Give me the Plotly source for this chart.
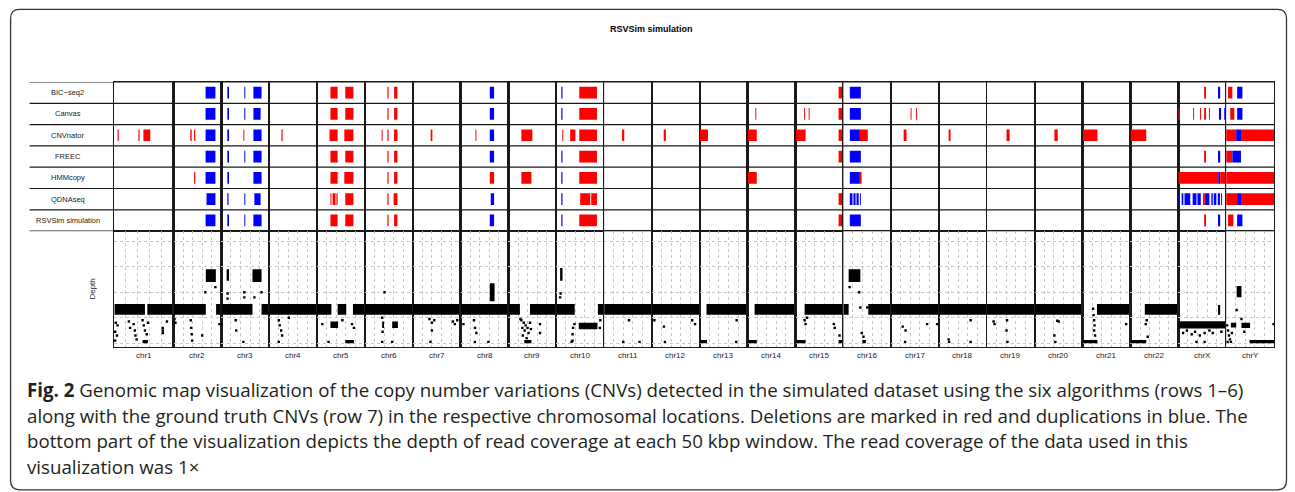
import plotly.graph_objects as go
from plotly.subplots import make_subplots

# ---------------- data ----------------
CHROMS = [f"chr{i}" for i in range(1, 23)] + ["chrX", "chrY"]
TRACKS = ["BIC−seq2", "Canvas", "CNVnator", "FREEC", "HMMcopy", "QDNAseq", "RSVSim simulation"]

# CNV calls: (chromosome, start, end, type); positions are fractions of the chromosome length
BICSEQ2 = [
    ("chr2", 0.67, 0.876, "dup"),
    ("chr3", 0.125, 0.16, "dup"), ("chr3", 0.48, 0.50, "dup"), ("chr3", 0.67, 0.84, "dup"),
    ("chr5", 0.28, 0.43, "del"), ("chr5", 0.59, 0.76, "del"),
    ("chr6", 0.47, 0.495, "del"), ("chr6", 0.61, 0.68, "del"),
    ("chr8", 0.61, 0.70, "dup"),
    ("chr10", 0.105, 0.13, "dup"), ("chr10", 0.48, 0.85, "del"),
    ("chr15", 0.90, 0.975, "del"),
    ("chr16", 0.135, 0.365, "dup"),
    ("chrX", 0.54, 0.58, "del"), ("chrX", 0.83, 0.875, "dup"),
    ("chrY", 0.04, 0.13, "del"), ("chrY", 0.23, 0.34, "dup"),
]
CANVAS = [
    ("chr2", 0.67, 0.876, "dup"),
    ("chr3", 0.125, 0.16, "dup"), ("chr3", 0.48, 0.50, "dup"), ("chr3", 0.67, 0.82, "dup"),
    ("chr5", 0.28, 0.43, "del"), ("chr5", 0.59, 0.76, "del"),
    ("chr6", 0.47, 0.495, "del"), ("chr6", 0.61, 0.68, "del"),
    ("chr8", 0.61, 0.70, "dup"),
    ("chr10", 0.105, 0.13, "dup"), ("chr10", 0.48, 0.85, "del"),
    ("chr14", 0.16, 0.18, "del"),
    ("chr15", 0.18, 0.20, "del"), ("chr15", 0.275, 0.295, "del"), ("chr15", 0.90, 0.975, "del"),
    ("chr16", 0.135, 0.365, "dup"),
    ("chr17", 0.405, 0.425, "del"), ("chr17", 0.52, 0.54, "del"),
    ("chrX", 0.0, 0.03, "del"), ("chrX", 0.31, 0.33, "del"), ("chrX", 0.455, 0.475, "del"),
    ("chrX", 0.54, 0.58, "del"), ("chrX", 0.64, 0.66, "del"), ("chrX", 0.85, 0.895, "dup"),
    ("chrX", 0.96, 0.98, "dup"),
    ("chrY", 0.085, 0.17, "del"), ("chrY", 0.23, 0.34, "dup"),
]
CNVNATOR = [
    ("chr1", 0.06, 0.08, "del"), ("chr1", 0.41, 0.43, "del"), ("chr1", 0.494, 0.61, "del"),
    ("chr2", 0.35, 0.38, "del"), ("chr2", 0.43, 0.455, "del"), ("chr2", 0.67, 0.876, "dup"),
    ("chr3", 0.125, 0.16, "dup"), ("chr3", 0.46, 0.48, "del"), ("chr3", 0.67, 0.84, "dup"),
    ("chr4", 0.255, 0.28, "del"),
    ("chr5", 0.26, 0.43, "del"), ("chr5", 0.57, 0.76, "del"),
    ("chr6", 0.35, 0.37, "del"), ("chr6", 0.47, 0.495, "del"), ("chr6", 0.61, 0.68, "del"),
    ("chr7", 0.375, 0.41, "del"),
    ("chr8", 0.31, 0.33, "del"), ("chr8", 0.61, 0.70, "dup"),
    ("chr9", 0.27, 0.50, "del"),
    ("chr10", 0.125, 0.145, "del"), ("chr10", 0.29, 0.40, "del"), ("chr10", 0.48, 0.85, "del"),
    ("chr11", 0.375, 0.42, "del"),
    ("chr12", 0.245, 0.29, "del"),
    ("chr13", 0.0, 0.17, "del"),
    ("chr14", 0.0, 0.19, "del"),
    ("chr15", 0.0, 0.21, "del"), ("chr15", 0.90, 0.975, "del"),
    ("chr16", 0.135, 0.345, "dup"), ("chr16", 0.345, 0.51, "del"),
    ("chr17", 0.26, 0.32, "del"),
    ("chr18", 0.20, 0.24, "del"),
    ("chr19", 0.41, 0.475, "del"),
    ("chr20", 0.41, 0.48, "del"),
    ("chr21", 0.0, 0.31, "del"),
    ("chr22", 0.0, 0.33, "del"),
    ("chrY", 0.0, 0.21, "del"), ("chrY", 0.21, 0.31, "dup"), ("chrY", 0.31, 1.0, "del"),
]
FREEC = [
    ("chr2", 0.67, 0.876, "dup"),
    ("chr3", 0.125, 0.16, "dup"), ("chr3", 0.48, 0.50, "dup"), ("chr3", 0.67, 0.84, "dup"),
    ("chr5", 0.28, 0.43, "del"), ("chr5", 0.59, 0.76, "del"),
    ("chr6", 0.47, 0.495, "del"), ("chr6", 0.61, 0.68, "del"),
    ("chr8", 0.61, 0.70, "dup"),
    ("chr10", 0.105, 0.13, "dup"), ("chr10", 0.48, 0.85, "del"),
    ("chr15", 0.90, 0.975, "del"),
    ("chr16", 0.135, 0.365, "dup"),
    ("chrX", 0.54, 0.58, "del"), ("chrX", 0.83, 0.875, "dup"),
    ("chrY", 0.0, 0.13, "del"), ("chrY", 0.13, 0.31, "dup"),
]
HMMCOPY = [
    ("chr2", 0.43, 0.455, "del"), ("chr2", 0.67, 0.876, "dup"),
    ("chr3", 0.125, 0.16, "dup"), ("chr3", 0.67, 0.84, "dup"),
    ("chr5", 0.28, 0.43, "del"), ("chr5", 0.57, 0.76, "del"),
    ("chr6", 0.47, 0.495, "del"), ("chr6", 0.61, 0.68, "del"),
    ("chr8", 0.61, 0.70, "del"),
    ("chr9", 0.27, 0.48, "del"),
    ("chr10", 0.105, 0.13, "dup"), ("chr10", 0.48, 0.85, "del"),
    ("chr14", 0.0, 0.19, "del"),
    ("chr16", 0.135, 0.345, "dup"), ("chr16", 0.345, 0.38, "del"),
    ("chrX", 0.0, 0.835, "del"), ("chrX", 0.835, 0.875, "dup"), ("chrX", 0.875, 1.0, "del"),
    ("chrY", 0.0, 1.0, "del"),
]
QDNASEQ = [
    ("chr2", 0.69, 0.876, "dup"),
    ("chr3", 0.125, 0.15, "dup"), ("chr3", 0.48, 0.50, "dup"), ("chr3", 0.69, 0.82, "dup"),
    ("chr5", 0.28, 0.30, "del"), ("chr5", 0.325, 0.385, "del"), ("chr5", 0.405, 0.43, "del"),
    ("chr5", 0.59, 0.76, "del"),
    ("chr6", 0.47, 0.495, "del"), ("chr6", 0.60, 0.68, "del"),
    ("chr8", 0.63, 0.70, "dup"),
    ("chr10", 0.105, 0.13, "dup"), ("chr10", 0.50, 0.71, "del"), ("chr10", 0.73, 0.85, "del"),
    ("chr15", 0.90, 0.975, "del"),
    ("chr16", 0.135, 0.19, "dup"), ("chr16", 0.21, 0.255, "dup"), ("chr16", 0.275, 0.32, "dup"),
    ("chr16", 0.345, 0.365, "dup"),
    ("chrX", 0.0, 0.02, "dup"), ("chrX", 0.07, 0.105, "dup"), ("chrX", 0.13, 0.25, "dup"),
    ("chrX", 0.30, 0.38, "dup"), ("chrX", 0.40, 0.47, "dup"), ("chrX", 0.515, 0.555, "del"),
    ("chrX", 0.56, 0.65, "dup"), ("chrX", 0.69, 0.72, "dup"), ("chrX", 0.74, 0.795, "dup"),
    ("chrX", 0.825, 0.87, "dup"), ("chrX", 0.895, 0.915, "dup"),
    ("chrY", 0.0, 0.23, "del"), ("chrY", 0.23, 0.31, "dup"), ("chrY", 0.31, 1.0, "del"),
]
RSVSIM = [
    ("chr2", 0.67, 0.876, "dup"),
    ("chr3", 0.125, 0.16, "dup"), ("chr3", 0.48, 0.50, "dup"), ("chr3", 0.67, 0.84, "dup"),
    ("chr5", 0.28, 0.43, "del"), ("chr5", 0.59, 0.76, "del"),
    ("chr6", 0.47, 0.495, "del"), ("chr6", 0.61, 0.68, "del"),
    ("chr8", 0.61, 0.70, "dup"),
    ("chr10", 0.105, 0.13, "dup"), ("chr10", 0.48, 0.85, "del"),
    ("chr15", 0.90, 0.975, "del"),
    ("chr16", 0.135, 0.365, "dup"),
    ("chrX", 0.54, 0.58, "del"), ("chrX", 0.83, 0.875, "dup"),
    ("chrY", 0.04, 0.15, "del"), ("chrY", 0.23, 0.34, "dup"),
]
CALLS = [BICSEQ2, CANVAS, CNVNATOR, FREEC, HMMCOPY, QDNASEQ, RSVSIM]

# Read depth: dense clouds of windows, (chromosome, start, end, depth low, depth high)
DEPTH_CLOUDS = [
    ("chr1", 0.01, 0.52, 1.12, 1.54), ("chr1", 0.56, 0.985, 1.12, 1.54), ("chr1", 0.48, 0.57, 0.0, 0.12),
    ("chr2", 0.0, 0.675, 1.12, 1.54), ("chr2", 0.675, 0.885, 2.4, 2.9), ("chr2", 0.89, 1.0, 1.12, 1.54),
    ("chr3", 0.0, 0.65, 1.12, 1.54), ("chr3", 0.11, 0.16, 2.45, 2.9), ("chr3", 0.65, 0.84, 2.4, 2.9),
    ("chr3", 0.84, 1.0, 1.12, 1.54),
    ("chr4", 0.0, 1.0, 1.12, 1.54),
    ("chr5", 0.0, 0.30, 1.12, 1.54), ("chr5", 0.28, 0.44, 0.6, 0.85), ("chr5", 0.43, 0.61, 1.12, 1.54),
    ("chr5", 0.59, 0.77, 0.0, 0.12), ("chr5", 0.75, 1.0, 1.12, 1.54),
    ("chr6", 0.0, 1.0, 1.12, 1.54), ("chr6", 0.36, 0.40, 0.6, 0.85), ("chr6", 0.57, 0.69, 0.6, 0.85),
    ("chr7", 0.0, 1.0, 1.12, 1.54),
    ("chr8", 0.0, 1.0, 1.12, 1.54), ("chr8", 0.61, 0.71, 1.65, 2.35),
    ("chr9", 0.0, 0.24, 1.12, 1.54), ("chr9", 0.45, 1.0, 1.12, 1.54), ("chr9", 0.33, 0.48, 0.0, 0.12),
    ("chr10", 0.0, 0.385, 1.12, 1.54), ("chr10", 0.08, 0.13, 2.45, 2.95), ("chr10", 0.47, 0.86, 0.55, 0.8),
    ("chr10", 0.87, 1.0, 1.12, 1.54),
    ("chr11", 0.0, 1.0, 1.12, 1.54),
    ("chr12", 0.0, 1.0, 1.12, 1.54),
    ("chr13", 0.0, 0.15, 0.0, 0.12), ("chr13", 0.14, 0.97, 1.12, 1.54),
    ("chr14", 0.0, 0.19, 0.0, 0.12), ("chr14", 0.145, 0.97, 1.12, 1.54),
    ("chr15", 0.0, 0.21, 0.0, 0.12), ("chr15", 0.19, 1.0, 1.12, 1.54), ("chr15", 0.90, 0.97, 0.0, 0.12),
    ("chr16", 0.0, 0.11, 1.12, 1.54), ("chr16", 0.11, 0.355, 2.4, 2.9), ("chr16", 0.40, 0.47, 0.0, 0.12),
    ("chr16", 0.52, 0.98, 1.12, 1.54),
    ("chr17", 0.0, 1.0, 1.12, 1.54),
    ("chr18", 0.0, 1.0, 1.12, 1.54),
    ("chr19", 0.0, 1.0, 1.12, 1.54),
    ("chr20", 0.0, 0.98, 1.12, 1.54),
    ("chr21", 0.0, 0.31, 0.0, 0.12), ("chr21", 0.30, 1.0, 1.12, 1.54),
    ("chr22", 0.0, 0.33, 0.0, 0.12), ("chr22", 0.30, 1.0, 1.12, 1.54),
    ("chrX", 0.0, 1.0, 0.58, 0.86), ("chrX", 0.83, 0.875, 1.12, 1.5),
    ("chrY", 0.10, 0.21, 0.62, 0.80), ("chrY", 0.22, 0.32, 1.8, 2.25), ("chrY", 0.32, 0.50, 0.6, 0.8),
    ("chrY", 0.49, 1.0, 0.0, 0.12),
]

# Isolated windows outside the dense clouds: (chromosome, position, depth)
DEPTH_POINTS = [
    ("chr1", 0.03, 0.8), ("chr1", 0.06, 0.7), ("chr1", 0.02, 0.45), ("chr1", 0.05, 0.3), ("chr1", 0.02, 0.1),
    ("chr1", 0.25, 0.85), ("chr1", 0.27, 0.6), ("chr1", 0.33, 0.75), ("chr1", 0.35, 0.5), ("chr1", 0.36, 0.3),
    ("chr1", 0.38, 0.15), ("chr1", 0.48, 0.9), ("chr1", 0.5, 0.7), ("chr1", 0.52, 0.5), ("chr1", 0.55, 0.35),
    ("chr1", 0.57, 0.8), ("chr1", 0.82, 0.6), ("chr1", 0.82, 0.5), ("chr1", 0.82, 0.4), ("chr1", 0.89, 0.85),
    ("chr2", 0.02, 0.95), ("chr2", 0.04, 0.8), ("chr2", 0.36, 0.9), ("chr2", 0.37, 0.6), ("chr2", 0.38, 0.35),
    ("chr2", 0.39, 0.1), ("chr2", 0.6, 0.3), ("chr2", 0.665, 2.0), ("chr2", 0.875, 2.2), ("chr2", 0.96, 0.75),
    ("chr3", 0.0, 0.75), ("chr3", 0.13, 1.75), ("chr3", 0.13, 1.95), ("chr3", 0.48, 1.8), ("chr3", 0.48, 2.0),
    ("chr3", 0.3, 0.9), ("chr3", 0.31, 0.5), ("chr3", 0.46, 0.05), ("chr3", 0.69, 1.8), ("chr3", 0.84, 2.0),
    ("chr4", 0.2, 0.9), ("chr4", 0.22, 0.7), ("chr4", 0.25, 0.5), ("chr4", 0.27, 0.3), ("chr4", 0.2, 0.05),
    ("chr4", 0.41, 1.0),
    ("chr5", 0.11, 0.75), ("chr5", 0.73, 0.75), ("chr5", 0.77, 0.6), ("chr5", 0.53, 0.9), ("chr5", 0.24, 0.05),
    ("chr6", 0.41, 2.0), ("chr6", 0.36, 1.0), ("chr6", 0.37, 0.45), ("chr6", 0.36, 0.05), ("chr6", 0.57, 0.05),
    ("chr7", 0.35, 0.95), ("chr7", 0.4, 0.8), ("chr7", 0.45, 0.9), ("chr7", 0.4, 0.5), ("chr7", 0.37, 0.05),
    ("chr7", 0.84, 0.85), ("chr7", 0.88, 0.75), ("chr7", 0.93, 0.9),
    ("chr8", 0.06, 0.75), ("chr8", 0.28, 0.9), ("chr8", 0.3, 0.6), ("chr8", 0.33, 0.4), ("chr8", 0.3, 0.05),
    ("chr8", 0.58, 0.05),
    ("chr9", 0.27, 0.9), ("chr9", 0.29, 0.6), ("chr9", 0.3, 0.3), ("chr9", 0.32, 0.8), ("chr9", 0.34, 0.5),
    ("chr9", 0.36, 0.7), ("chr9", 0.38, 0.2), ("chr9", 0.4, 0.6), ("chr9", 0.42, 0.4), ("chr9", 0.45, 0.8),
    ("chr9", 0.47, 0.55), ("chr9", 0.25, 0.95), ("chr9", 0.66, 0.4), ("chr9", 0.66, 0.75),
    ("chr10", 0.08, 1.8), ("chr10", 0.09, 1.95), ("chr10", 0.34, 0.1), ("chr10", 0.34, 0.35), ("chr10", 0.35, 0.6),
    ("chr10", 0.32, 0.05), ("chr10", 0.38, 0.75), ("chr10", 0.91, 0.6), ("chr10", 0.92, 0.9),
    ("chr11", 0.4, 0.05), ("chr11", 0.52, 0.9), ("chr11", 0.74, 0.05),
    ("chr12", 0.05, 0.9), ("chr12", 0.25, 0.65), ("chr12", 0.27, 0.05), ("chr12", 0.84, 0.9), ("chr12", 0.9, 0.75),
    ("chr13", 0.77, 0.9), ("chr13", 0.76, 0.05),
    ("chr15", 0.19, 0.9), ("chr15", 0.21, 0.75), ("chr15", 0.24, 1.0), ("chr15", 0.8, 0.75), ("chr15", 0.82, 0.6),
    ("chr15", 0.92, 0.3),
    ("chr16", 0.13, 2.2), ("chr16", 0.33, 2.0), ("chr16", 0.355, 1.4), ("chr16", 0.385, 0.4), ("chr16", 0.42, 0.25),
    ("chr16", 0.5, 1.4),
    ("chr17", 0.24, 0.65), ("chr17", 0.3, 0.5), ("chr17", 0.29, 0.05), ("chr17", 0.75, 0.75), ("chr17", 0.96, 0.75),
    ("chr18", 0.2, 0.15), ("chr18", 0.21, 0.05), ("chr18", 0.66, 0.9), ("chr18", 0.66, 0.05),
    ("chr19", 0.14, 0.85), ("chr19", 0.16, 0.75), ("chr19", 0.42, 0.9), ("chr19", 0.41, 0.5), ("chr19", 0.43, 0.05),
    ("chr20", 0.47, 0.88), ("chr20", 0.5, 0.85), ("chr20", 0.41, 0.3), ("chr20", 0.43, 0.05),
    ("chr21", 0.22, 1.35), ("chr21", 0.23, 1.1), ("chr21", 0.24, 0.9), ("chr21", 0.25, 0.7), ("chr21", 0.24, 0.5),
    ("chr21", 0.26, 0.3), ("chr21", 0.91, 0.75),
    ("chr22", 0.32, 0.75), ("chr22", 0.34, 0.9), ("chr22", 0.36, 0.25),
    ("chrX", 0.1, 0.4), ("chrX", 0.18, 0.5), ("chrX", 0.28, 0.35), ("chrX", 0.35, 0.45), ("chrX", 0.45, 0.3),
    ("chrX", 0.55, 0.4), ("chrX", 0.65, 0.5), ("chrX", 0.72, 0.4), ("chrX", 0.9, 0.45), ("chrX", 0.38, 0.05),
    ("chrX", 0.55, 0.05),
    ("chrY", 0.02, 0.7), ("chrY", 0.04, 0.5), ("chrY", 0.06, 0.3), ("chrY", 0.08, 0.15), ("chrY", 0.03, 0.05),
    ("chrY", 0.1, 0.05), ("chrY", 0.12, 0.4), ("chrY", 0.22, 1.3), ("chrY", 0.32, 0.95), ("chrY", 0.38, 0.45),
    ("chrY", 0.99, 0.75),
]

CAPTION = [
    "<b>Fig. 2</b> Genomic map visualization of the copy number variations (CNVs) detected in the simulated dataset using the six algorithms (rows 1–6)",
    "along with the ground truth CNVs (row 7) in the respective chromosomal locations. Deletions are marked in red and duplications in blue. The",
    "bottom part of the visualization depicts the depth of read coverage at each 50 kbp window. The read coverage of the data used in this",
    "visualization was 1×",
]

COLORS = {"del": "#FF0000", "dup": "#0000FF"}

# ---------------- layout geometry (pixels) ----------------
W, H = 1295, 492
L, R, T, B = 113.5, 1274.5, 81.7, 347.0
ML, MR, MT, MB = L, W - R, T, H - B
PW, PH = R - L, B - T


def px(xp):
    return (xp - L) / PW


def py(yp):
    return (B - yp) / PH


n = len(CHROMS)
fig = make_subplots(
    rows=2, cols=n,
    column_widths=[59.7] + [48.0] * (n - 1),
    row_heights=[149.3, 116.0],
    horizontal_spacing=0, vertical_spacing=0,
)

LINE = "#1a1a1a"

for ci, chrom in enumerate(CHROMS):
    col = ci + 1
    # track panel
    base, length, ys, cols = [], [], [], []
    for ti, calls in enumerate(CALLS):
        for (c, s, e, t) in calls:
            if c == chrom:
                base.append(s)
                length.append(e - s)
                ys.append(ti)
                cols.append(COLORS[t])
    if base:
        fig.add_trace(go.Bar(
            orientation="h", base=base, x=length, y=ys, width=0.55,
            marker=dict(color=cols, line=dict(width=0)), showlegend=False, hoverinfo="skip",
        ), row=1, col=col)
    # depth clouds
    b2, l2, y2, w2 = [], [], [], []
    for (c, s, e, lo, hi) in DEPTH_CLOUDS:
        if c == chrom:
            b2.append(s)
            l2.append(e - s)
            y2.append((lo + hi) / 2)
            w2.append(hi - lo)
    if b2:
        fig.add_trace(go.Bar(
            orientation="h", base=b2, x=l2, y=y2, width=w2,
            marker=dict(color="#000000", line=dict(width=0)), showlegend=False, hoverinfo="skip",
        ), row=2, col=col)
    pxs = [p for (c, p, d) in DEPTH_POINTS if c == chrom]
    pys = [d for (c, p, d) in DEPTH_POINTS if c == chrom]
    if pxs:
        fig.add_trace(go.Scatter(
            x=pxs, y=pys, mode="markers",
            marker=dict(symbol="square", size=2.4, color="#000000", line=dict(width=0)),
            showlegend=False, hoverinfo="skip",
        ), row=2, col=col)

    ax_common = dict(showline=True, mirror=True, linecolor=LINE, linewidth=1.2,
                     zeroline=False, ticks="", showticklabels=False, fixedrange=True)
    fig.update_xaxes(range=[0, 1], showgrid=False, row=1, col=col, **ax_common)
    fig.update_yaxes(range=[len(TRACKS) - 0.5, -0.5], showgrid=False, row=1, col=col, **ax_common)
    fig.update_xaxes(range=[0, 1], tickvals=[0.2, 0.4, 0.6, 0.8], showgrid=True,
                     gridcolor="#c8c8c8", griddash="dot", gridwidth=1, row=2, col=col, **ax_common)
    fig.update_yaxes(range=[-0.15, 4.4], tickvals=[0, 1, 2, 3, 4], showgrid=True,
                     gridcolor="#c8c8c8", griddash="dot", gridwidth=1, row=2, col=col, **ax_common)

shapes = []
# row separators extending into label column
for k in range(len(TRACKS) + 1):
    shapes.append(dict(type="line", xref="paper", yref="y", x0=px(29), x1=1.0,
                       y0=k - 0.5, y1=k - 0.5, line=dict(color=LINE, width=1.2)))
# rounded frame
x0, x1, y0, y1 = px(10), px(1287), py(9), py(490)
rx, ry = 9 / PW, 9 / PH
path = (f"M {x0 + rx},{y0} L {x1 - rx},{y0} Q {x1},{y0} {x1},{y0 - ry} "
        f"L {x1},{y1 + ry} Q {x1},{y1} {x1 - rx},{y1} L {x0 + rx},{y1} Q {x0},{y1} {x0},{y1 + ry} "
        f"L {x0},{y0 - ry} Q {x0},{y0} {x0 + rx},{y0} Z")
shapes.append(dict(type="path", xref="paper", yref="paper", path=path,
                   line=dict(color="#333333", width=1.3)))

ann = []
ann.append(dict(text="<b>RSVSim simulation</b>", xref="paper", yref="paper", x=px(651), y=py(29),
                showarrow=False, xanchor="center", yanchor="middle",
                font=dict(family="Liberation Sans, Arial, sans-serif", size=9, color="#000")))
for ti, name in enumerate(TRACKS):
    ann.append(dict(text=name, xref="paper", yref="y", x=px(67), y=ti, showarrow=False,
                    xanchor="center", yanchor="middle",
                    font=dict(family="Liberation Sans, Arial, sans-serif", size=7.5, color="#222")))
ann.append(dict(text="Depth", xref="paper", yref="paper", x=px(92), y=py(289), textangle=-90,
                showarrow=False, xanchor="center", yanchor="middle",
                font=dict(family="Liberation Sans, Arial, sans-serif", size=8, color="#222")))
for ci, chrom in enumerate(CHROMS):
    ann.append(dict(text=chrom, xref=f"x{n + ci + 1} domain", yref="paper", x=0.5, y=py(356),
                    showarrow=False, xanchor="center", yanchor="middle",
                    font=dict(family="Liberation Sans, Arial, sans-serif", size=8, color="#222")))
for li, line in enumerate(CAPTION):
    ann.append(dict(text=line, xref="paper", yref="paper", x=px(24), y=py(390 + 25.5 * li),
                    showarrow=False, xanchor="left", yanchor="middle",
                    font=dict(family="Open Sans, sans-serif", size=18.7, color="#231f20")))

fig.update_layout(
    width=W, height=H, margin=dict(l=ML, r=MR, t=MT, b=MB, pad=0),
    paper_bgcolor="white", plot_bgcolor="white", barmode="overlay",
    shapes=shapes, annotations=ann, showlegend=False,
)
fig.write_html("out.html", config={"displayModeBar": False, "staticPlot": True},
               post_script="document.body.style.margin='0px';document.body.style.overflow='hidden';")
